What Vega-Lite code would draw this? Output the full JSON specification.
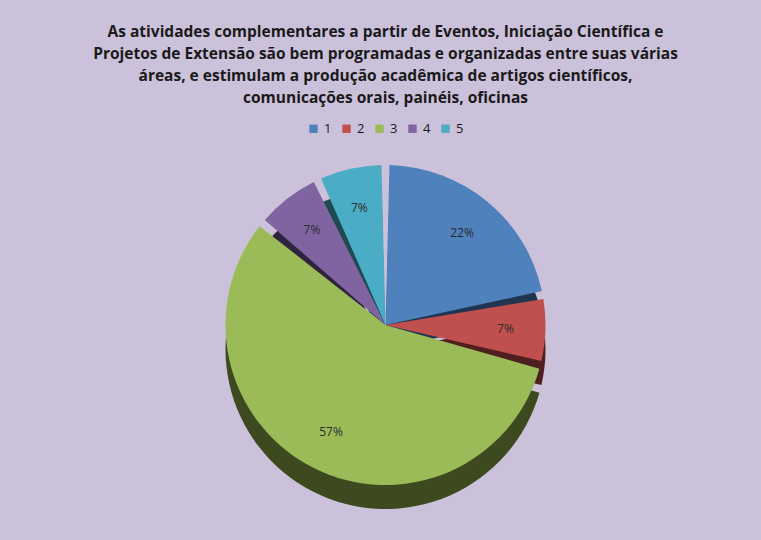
{
  "$schema": "https://vega.github.io/schema/vega-lite/v6.json",
  "width": 761,
  "height": 540,
  "autosize": {"type": "fit", "contains": "padding"},
  "padding": {"left": 10, "right": 0, "top": 24, "bottom": 40},
  "background": "#ccc1da",
  "title": {
    "text": [
      "As atividades complementares a partir de Eventos, Iniciação Científica e",
      "Projetos de Extensão são bem programadas e organizadas entre suas várias",
      "áreas, e estimulam a produção acadêmica de artigos científicos,",
      "comunicações orais, painéis, oficinas"
    ],
    "font": "Open Sans",
    "fontSize": 15.5,
    "fontWeight": "bold",
    "color": "#1a1a1a",
    "lineHeight": 22,
    "anchor": "middle",
    "offset": 16
  },
  "data": {
    "values": [
      {"category": "1", "pct": 22, "label": "22%"},
      {"category": "2", "pct": 7, "label": "7%"},
      {"category": "3", "pct": 57, "label": "57%"},
      {"category": "4", "pct": 7, "label": "7%"},
      {"category": "5", "pct": 7, "label": "7%"}
    ]
  },
  "config": {
    "view": {"stroke": null},
    "legend": {"layout": {"top": {"anchor": "middle"}}}
  },
  "layer": [
    {
      "mark": {"type": "arc", "radius": 160, "yOffset": 24, "padAngle": 0.05},
      "encoding": {
        "theta": {"field": "pct", "type": "quantitative", "stack": true},
        "order": {"field": "category", "type": "ordinal"},
        "color": {
          "field": "category",
          "type": "nominal",
          "scale": {"domain": ["1", "2", "3", "4", "5"], "range": ["#1f3550", "#4f1e1e", "#3d4a20", "#2f2440", "#1f4a52"]},
          "legend": null
        }
      }
    },
    {
      "mark": {"type": "arc", "radius": 160, "padAngle": 0.05},
      "encoding": {
        "theta": {"field": "pct", "type": "quantitative", "stack": true},
        "order": {"field": "category", "type": "ordinal"},
        "color": {
          "field": "category",
          "type": "nominal",
          "scale": {"domain": ["1", "2", "3", "4", "5"], "range": ["#4f81bd", "#c0504d", "#9bbb59", "#8064a2", "#4bacc6"]},
          "legend": {
            "title": null,
            "orient": "top",
            "direction": "horizontal",
            "symbolType": "square",
            "symbolSize": 70,
            "symbolStrokeWidth": 0,
            "labelFont": "Open Sans",
            "labelFontSize": 13,
            "labelColor": "#1a1a1a",
            "columnPadding": 8,
            "offset": 14
          }
        }
      }
    },
    {
      "mark": {"type": "text", "radius": 120, "font": "Open Sans", "fontSize": 12, "color": "#2a2a2a"},
      "encoding": {
        "theta": {"field": "pct", "type": "quantitative", "stack": true},
        "order": {"field": "category", "type": "ordinal"},
        "text": {"field": "label", "type": "nominal"}
      }
    }
  ],
  "resolve": {"scale": {"color": "independent"}}
}
